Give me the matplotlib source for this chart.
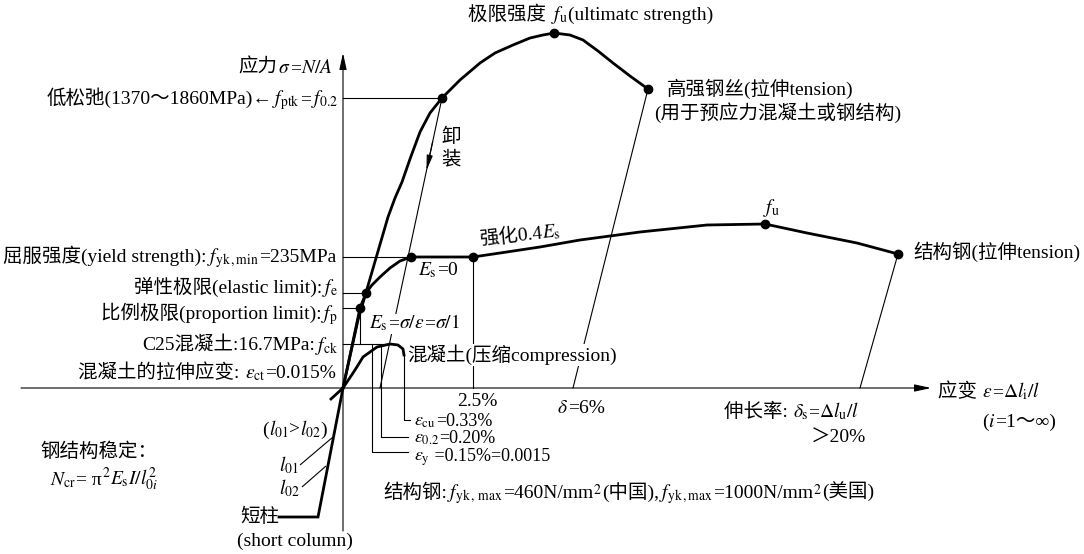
import math
import matplotlib
matplotlib.use("Agg")
import matplotlib.pyplot as plt

plt.rcParams['font.family'] = ['Liberation Serif', 'Noto Sans CJK SC', 'DejaVu Sans']
plt.rcParams['mathtext.fontset'] = 'stix'

# ---- schematic data (strain x, stress y in drawing units, origin = axis crossing) ----
wire_x = [0, 15, 31, 45, 52, 59, 67, 77, 87, 99, 117, 137, 152, 170, 187, 200, 211, 227, 240, 255, 270, 287, 305]
wire_y = [0, 68, 123, 171, 190, 206, 229, 256, 275, 290, 308, 325, 335, 343, 350, 353, 355, 353, 348, 337, 325, 312, 299]

column_x = [0, -25, -64]
column_y = [0, -129, -129]

steel_x = [0, 9, 17, 23, 29, 37, 47, 57, 68, 130, 157, 197, 237, 297, 364, 422, 464, 514, 555]
steel_y = [0, 42, 80, 95, 103, 111, 120, 127, 131, 131, 135, 141, 148, 156, 163, 164, 155, 145, 134]

concrete_x = [-12, 0, 12, 20, 34, 47, 55, 60, 61]
concrete_y = [-11, 0, 18, 31, 41, 44, 43, 39, 33]

dots_x = [99, 211, 305, 68, 130, 422, 555, 23, 17]
dots_y = [290, 355, 299, 131, 131, 164, 134, 95, 80]

# stress levels (horizontal guides) and their end strain
levels_y = [290, 131, 95, 80, 44]
levels_x_end = [99, 68, 23, 17, 47]

# strain marks
eps_y, eps_02, eps_cu = 29, 38, 61
strain_25 = 130
f_ck = 44

OX, OY = 343, 388  # pixel position of origin (layout only)

fig = plt.figure(figsize=(10.84, 5.54), dpi=100)
ax = fig.add_axes([0, 0, 1, 1])
ax.set_xlim(-OX, 1084 - OX)
ax.set_ylim(OY - 554, OY)
ax.axis('off')
renderer = fig.canvas.get_renderer()

FS = 14
THICK = 2.0
THIN = 0.8

def P(px, py):
    return px - OX, OY - py

def T(px, py, s, ha='left', va='center', **kw):
    x, y = P(px, py)
    fs = kw.pop('fontsize', FS)
    ax.text(x, y, s, ha=ha, va=va, fontsize=fs, zorder=5, **kw)

def R(px, py, parts, ha='left', rot=0, fs=FS, bbox=None):
    """Place text pieces one after another on a common baseline."""
    texts, ws = [], []
    for s in parts:
        t = ax.text(0, 0, s, ha='left', va='baseline', fontsize=fs, zorder=5,
                    rotation_mode='anchor')
        ws.append(t.get_window_extent(renderer).width)
        t.set_rotation(rot)
        texts.append(t)
    total = sum(ws)
    off = {'left': 0, 'center': total / 2, 'right': total}[ha]
    x0, y0 = P(px, py + 5)
    if bbox is not None:
        from matplotlib.patches import Rectangle
        ax.add_patch(Rectangle((x0 - off - 1, y0 - 6), total + 2, 20, facecolor='white',
                               edgecolor='none', zorder=4.5))
    c, s_ = math.cos(math.radians(rot)), math.sin(math.radians(rot))
    cur = -off
    for t, w in zip(texts, ws):
        t.set_position((x0 + cur * c, y0 + cur * s_))
        cur += w

def L(p1, p2, lw=THIN):
    x1, y1 = P(*p1)
    x2, y2 = P(*p2)
    ax.plot([x1, x2], [y1, y2], color='black', lw=lw, solid_capstyle='butt', zorder=2)

# axes with arrows
AST = '-|>,head_length=1.0,head_width=0.22'
ax.annotate('', xy=P(931, 388), xytext=P(21, 388),
            arrowprops=dict(arrowstyle=AST, lw=THIN, color='black', shrinkA=0, shrinkB=0))
ax.annotate('', xy=P(343, 53), xytext=P(343, 531),
            arrowprops=dict(arrowstyle=AST, lw=THIN, color='black', shrinkA=0, shrinkB=0))

# horizontal guides
for yv, xe in zip(levels_y, levels_x_end):
    ax.plot([0, xe], [yv, yv], color='black', lw=THIN, zorder=2)
# vertical from f_p dot to f_ck level
ax.plot([dots_x[8], dots_x[8]], [dots_y[8], f_ck], color='black', lw=THIN, zorder=2)
# strain leaders
ax.plot([eps_y, eps_y, 65], [f_ck, -64, -64], color='black', lw=THIN, zorder=2)
ax.plot([eps_02, eps_02, 65], [f_ck, -49, -49], color='black', lw=THIN, zorder=2)
ax.plot([eps_cu, eps_cu, 67], [concrete_y[-1], -32, -32], color='black', lw=THIN, zorder=2)
ax.plot([strain_25, strain_25], [131, 0], color='black', lw=THIN, zorder=2)
# elongation lines
ax.plot([wire_x[-1], 230], [wire_y[-1], 0], color='black', lw=THIN, zorder=2)
ax.plot([steel_x[-1], 517], [steel_y[-1], 0], color='black', lw=THIN, zorder=2)
# unloading line with arrow
ax.plot([99, 37], [290, 0], color='black', lw=THIN, zorder=2)
t0, t1 = 0.15, 0.25
ax.annotate('', xy=(99 - 62 * t1, 290 - 290 * t1), xytext=(99 - 62 * t0, 290 - 290 * t0),
            arrowprops=dict(arrowstyle='-|>,head_length=0.9,head_width=0.18', lw=THIN,
                            color='black', shrinkA=0, shrinkB=0))
# slenderness leaders
L((300, 465), (333, 437))
L((302, 487), (326, 466))

# curves
ax.plot(wire_x, wire_y, color='black', lw=THICK, zorder=3, solid_joinstyle='round')
ax.plot(column_x, column_y, color='black', lw=THICK, zorder=3, solid_joinstyle='miter')
ax.plot(steel_x, steel_y, color='black', lw=THICK, zorder=3, solid_joinstyle='round')
ax.plot(concrete_x, concrete_y, color='black', lw=THICK, zorder=3, solid_joinstyle='round')
ax.plot(dots_x, dots_y, 'o', color='black', ms=6, zorder=4)

WB = dict(facecolor='white', edgecolor='none', pad=0.5)

R(468, 15, ["极限强度 ", r"$f_{\mathrm{u}}$", "(ultimatc strength)"])
R(333, 68, ["应力", r"$\sigma$", "=", r"$N/A$"], ha='right')
R(338, 99, ["低松弛(1370～1860MPa)←", r"$f_{\mathrm{ptk}}$", "=", r"$f_{0.2}$"], ha='right')
T(451, 137, "卸", ha='center')
T(451, 160, "装", ha='center')
T(667, 89, "高强钢丝(拉伸tension)")
T(654, 113, "(用于预应力混凝土或钢结构)")
R(480, 240, ["强化0.4", r"$E_{\mathrm{s}}$"], rot=6)
T(771, 208, r"$f_{\mathrm{u}}$", ha='center')
T(913, 252, "结构钢(拉伸tension)")
R(336, 257, ["屈服强度(yield strength):", r"$f_{\mathrm{yk\,,min}}$", "=235MPa"], ha='right')
R(418, 270, [r"$E_{\mathrm{s}}$", "=0"])
R(338, 288, ["弹性极限(elastic limit):", r"$f_{\mathrm{e}}$"], ha='right')
R(338, 314, ["比例极限(proportion limit):", r"$f_{\mathrm{p}}$"], ha='right')
R(369, 323, [r"$E_{\mathrm{s}}$", "=", r"$\sigma/\varepsilon$", "=", r"$\sigma/1$"], bbox=True)
R(338, 346, ["C25混凝土:16.7MPa:", r"$f_{\mathrm{ck}}$"], ha='right')
T(407, 355, "混凝土(压缩compression)", bbox=WB)
R(336, 373, ["混凝土的拉伸应变: ", r"$\varepsilon_{\mathrm{ct}}$", "=0.015%"], ha='right')
T(477, 402, "2.5%", ha='center')
R(581, 408, [r"$\delta$", "=6%"], ha='center')
R(938, 392, ["应变 ", r"$\varepsilon$", "=", r"$\Delta l_{\mathrm{i}}/l$"])
R(1019, 422, ["(", r"$i$", "=1～∞)"], ha='center')
R(724, 412, ["伸长率: ", r"$\delta_{\mathrm{s}}$", "=", r"$\Delta l_{\mathrm{u}}/l$"])
T(866, 438, "＞20%", ha='right')
R(414, 421, [r"$\varepsilon_{\mathrm{cu}}$", "=0.33%"], fs=13)
R(414, 438, [r"$\varepsilon_{0.2}$", "=0.20%"], fs=13)
R(414, 456, [r"$\varepsilon_{\mathrm{y}}$", " =0.15%=0.0015"], fs=13)
R(327, 430, ["(", r"$l_{01}$", ">", r"$l_{02}$", ")"], ha='right')
T(40, 452, "钢结构稳定：")
R(50, 480, [r"$N_{\mathrm{cr}}$", "= π", r"${}^{2}E_{\mathrm{s}}I/l^{2}_{0i}$"])
T(289, 465, r"$l_{01}$", ha='center')
T(289, 488, r"$l_{02}$", ha='center')
T(260, 517, "短柱", ha='center')
T(295, 541, "(short column)", ha='center')
R(383, 493, ["结构钢:", r"$f_{\mathrm{yk\,,\,max}}$", "=460N/mm", r"${}^{2}$", "(中国),",
             r"$f_{\mathrm{yk\,,max}}$", "=1000N/mm", r"${}^{2}$", "(美国)"])

fig.savefig("out.png", dpi=100)
